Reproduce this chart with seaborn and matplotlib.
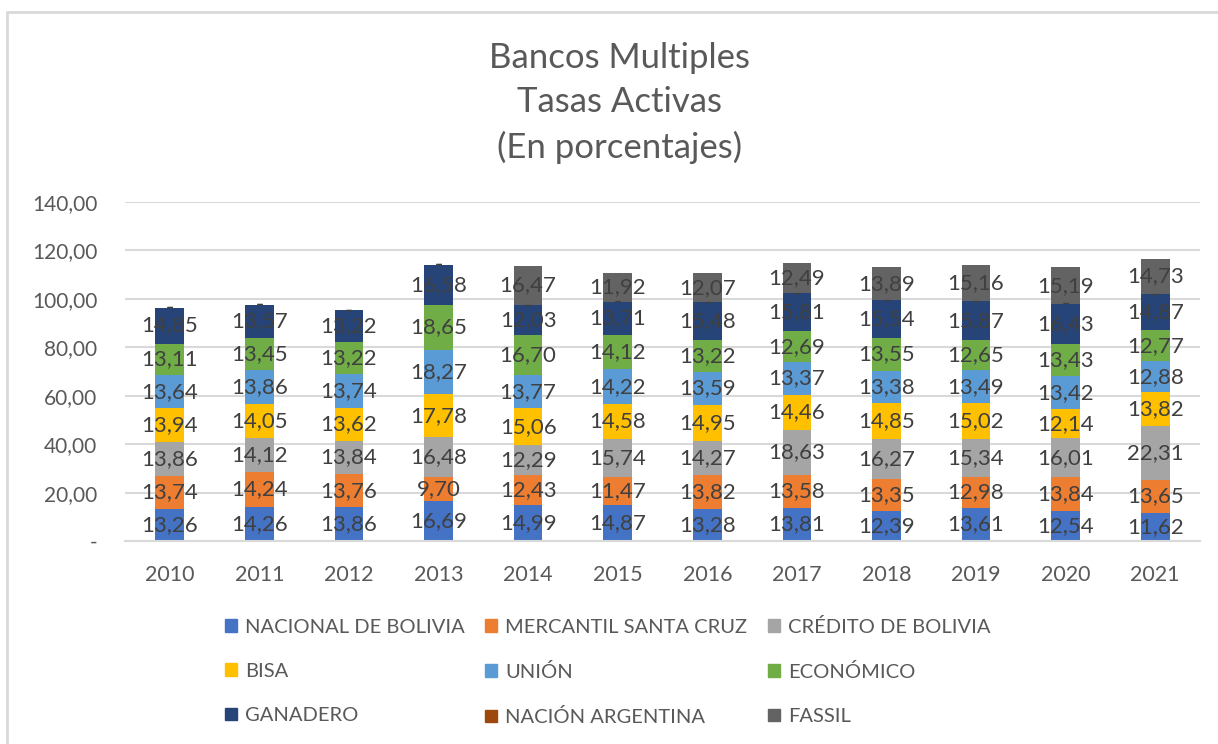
import numpy as np
import pandas as pd
import seaborn as sns
import matplotlib.pyplot as plt
from matplotlib.lines import Line2D
from matplotlib.patches import Patch

years = ['2010', '2011', '2012', '2013', '2014', '2015', '2016', '2017', '2018', '2019', '2020', '2021']

bancos = ['NACIONAL DE BOLIVIA', 'MERCANTIL SANTA CRUZ', 'CRÉDITO DE BOLIVIA', 'BISA', 'UNIÓN',
          'ECONÓMICO', 'GANADERO', 'NACIÓN ARGENTINA', 'FASSIL']

nacional = [13.26, 14.26, 13.86, 16.69, 14.99, 14.87, 13.28, 13.81, 12.39, 13.61, 12.54, 11.62]
mercantil = [13.74, 14.24, 13.76, 9.70, 12.43, 11.47, 13.82, 13.58, 13.35, 12.98, 13.84, 13.65]
credito = [13.86, 14.12, 13.84, 16.48, 12.29, 15.74, 14.27, 18.63, 16.27, 15.34, 16.01, 22.31]
bisa = [13.94, 14.05, 13.62, 17.78, 15.06, 14.58, 14.95, 14.46, 14.85, 15.02, 12.14, 13.82]
union = [13.64, 13.86, 13.74, 18.27, 13.77, 14.22, 13.59, 13.37, 13.38, 13.49, 13.42, 12.88]
economico = [13.11, 13.45, 13.22, 18.65, 16.70, 14.12, 13.22, 12.69, 13.55, 12.65, 13.43, 12.77]
ganadero = [14.85, 13.57, 13.22, 16.58, 12.03, 13.71, 15.48, 15.81, 15.54, 15.87, 16.43, 14.87]
nacion_arg = [0, 0, 0, 0, 0, 0, 0, 0, 0, 0, 0, 0]
fassil = [0, 0, 0, 0, 16.47, 11.92, 12.07, 12.49, 13.89, 15.16, 15.19, 14.73]

series = [nacional, mercantil, credito, bisa, union, economico, ganadero, nacion_arg, fassil]
colores = ['#4472C4', '#ED7D31', '#A5A5A5', '#FFC000', '#5B9BD5', '#70AD47', '#264478', '#9E480E', '#636363']

sns.set_theme(style='white')
plt.rcParams['font.family'] = ['Lato', 'DejaVu Sans']

fig = plt.figure(figsize=(12.18, 7.44), dpi=100)
ax = fig.add_axes([0.1026, 0.2728, 0.8826, 0.4557])

base = np.zeros(len(years))
for nombre, vals, col in zip(bancos, series, colores):
    df = pd.DataFrame({'anio': years, 'tasa': vals})
    sns.barplot(data=df, x='anio', y='tasa', color=col, width=0.32, bottom=base,
                errorbar=None, saturation=1, ax=ax, linewidth=0)
    etiquetas = ['-' if v == 0 else f'{v:.2f}'.replace('.', ',') for v in vals]
    ax.bar_label(ax.containers[-1], labels=etiquetas, label_type='center',
                 fontsize=16, color='#404040')
    base = base + np.array(vals)

ax.set_ylim(0, 140)
ax.set_xlim(-0.5, 11.5)
ax.set_yticks(range(0, 141, 20))
ax.set_yticklabels(['-'] + [f'{v},00' for v in range(20, 141, 20)])
ax.set_xlabel('')
ax.set_ylabel('')
ax.grid(axis='y', color='#D9D9D9', linewidth=1.5)
ax.set_axisbelow(True)
for s in ['top', 'right', 'left']:
    ax.spines[s].set_visible(False)
ax.spines['bottom'].set_color('#D9D9D9')
ax.spines['bottom'].set_linewidth(1.5)
ax.tick_params(axis='y', labelsize=15, labelcolor='#595959', length=0, pad=20)
ax.tick_params(axis='x', labelsize=15.5, labelcolor='#595959', length=0, pad=17)

fig.text(0.509, 1 - 103 / 744, 'Bancos Multiples\nTasas Activas\n(En porcentajes)', ha='center',
         va='center', fontsize=25, color='#595959', linespacing=1.45)

handles = [Patch(color=c) for c in colores]
orden = [0, 3, 6, 1, 4, 7, 2, 5, 8]
fig.legend([handles[i] for i in orden], [bancos[i] for i in orden], ncol=3,
           loc='center', bbox_to_anchor=(0.499, 0.097), frameon=False, fontsize=14.5,
           labelcolor='#595959', handlelength=0.6, handleheight=0.6, handletextpad=0.4,
           columnspacing=1.0, labelspacing=1.35)

# borde del grafico
fig.add_artist(Line2D([7 / 1218, 7 / 1218], [0, 1 - 12 / 744], color='#D9D9D9', linewidth=2,
                      transform=fig.transFigure))
fig.add_artist(Line2D([7 / 1218, 1], [1 - 12 / 744, 1 - 12 / 744], color='#D9D9D9', linewidth=2,
                      transform=fig.transFigure))

fig.savefig('out.png', dpi=100)
